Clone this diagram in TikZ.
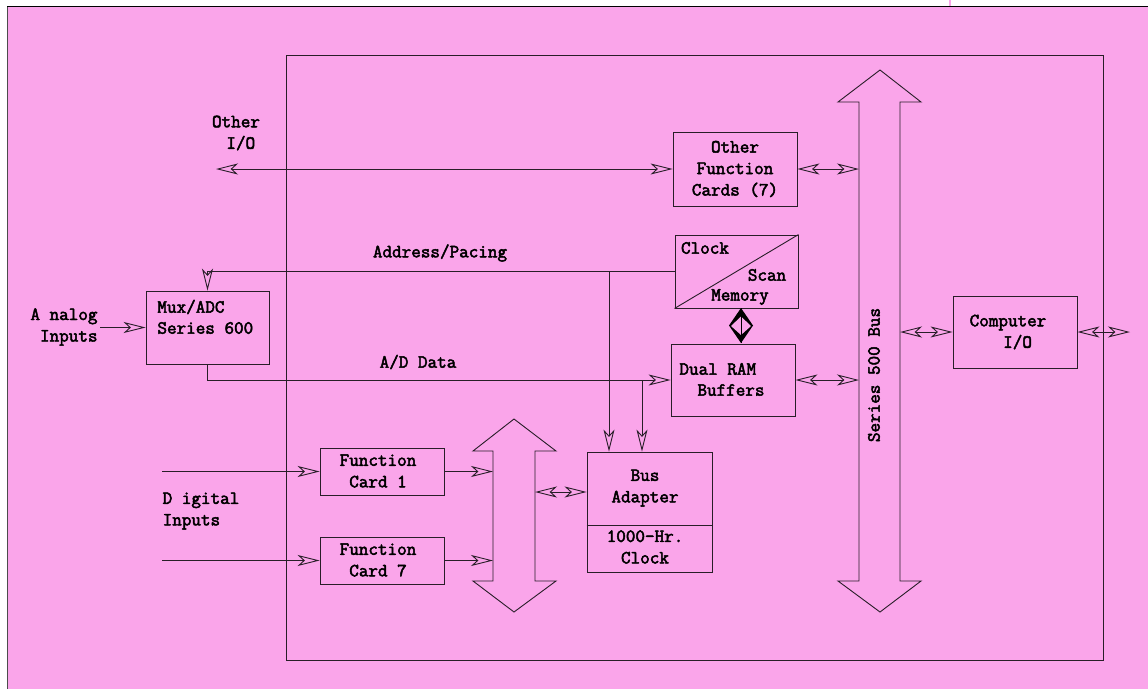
\documentclass[tikz,border=0pt]{standalone}
\usepackage{fontspec}
\newfontfamily\labelfont{Latin Modern Mono}[FakeBold=2.6]
\usetikzlibrary{arrows.meta}
\definecolor{bgpink}{RGB}{250,165,234}
\definecolor{edge}{RGB}{40,30,40}
\begin{document}
\begin{tikzpicture}[x=1pt,y=-1pt,line width=0.9pt,draw=edge,
  box/.style={draw=edge,rectangle,inner sep=0pt,fill=bgpink},
  lbl/.style={font=\labelfont\fontsize{18.6}{21.5}\selectfont,inner sep=0pt,align=center,text=black},
  bus/.style={draw=edge,fill=bgpink,line join=miter},
  >={Stealth[open,length=22pt,width=11pt,inset=6pt]},
]
\useasboundingbox (0,0) rectangle (1148,689);

% page background and frame
\fill[bgpink] (7,6) rectangle (1148,689);
\draw[gray!60!black] (7,689) -- (7,6);
\draw[black] (7,6) -- (1148,6);
\draw[bgpink,line width=2pt] (950,0) -- (950,6);

% system enclosure
\draw (286,55) rectangle (1103,660);

% Series 500 bus
\draw[bus] (859,102) -- (838,102) -- (880,70) -- (921,102) -- (900,102)
  -- (900,581) -- (921,581) -- (880,612) -- (838,581) -- (859,581) -- cycle;
\coordinate (busW) at (859,0);
\coordinate (busE) at (900,0);
\node[lbl,rotate=90] (buslbl) at (874,375) {Series 500 Bus};

% local card bus
\draw[bus] (493,451) -- (473,451) -- (514,419) -- (556,451) -- (535,451)
  -- (535,581) -- (556,581) -- (514,612) -- (473,581) -- (493,581) -- cycle;
\coordinate (sbW) at (493,0);
\coordinate (sbA) at (535,492);

% blocks
\node[box,minimum width=124pt,minimum height=74pt,lbl] (ofc) at (735,169) {Other\\Function\\Cards (7)};
\node[box,minimum width=123pt,minimum height=73pt] (clk) at (736.5,271.5) {};
\draw (clk.south west) -- (clk.north east);
\node[lbl] (clkt) at (705,248) {Clock};
\node[lbl] (scnt) at (767,275) {Scan};
\node[lbl] (memt) at (740,297) {Memory};

\node[box,minimum width=124pt,minimum height=72pt] (ram) at (733,380) {};
\node[lbl,anchor=west] (ram1) at (679,369) {Dual RAM};
\node[lbl,anchor=west] (ram2) at (697,390) {Buffers};

\node[box,minimum width=123pt,minimum height=73pt] (mux) at (207.5,327.5) {};
\node[lbl,anchor=west] (mux1) at (157,307) {Mux/ADC};
\node[lbl,anchor=west] (mux2) at (157,328) {Series 600};

\node[box,minimum width=125pt,minimum height=120pt] (ba) at (649.5,512) {};
\draw (ba.west |- 0,525) -- (ba.east |- 0,525);
\node[lbl] (ba1) at (645,488) {Bus\\Adapter};
\node[lbl] (ba2) at (645,547) {1000-Hr.\\Clock};

\node[box,minimum width=124pt,minimum height=47pt] (fc1) at (382,471.5) {};
\node[lbl] (fc1t) at (378,471) {Function\\Card 1};
\node[box,minimum width=124pt,minimum height=47pt] (fc7) at (382,560.5) {};
\node[lbl] (fc7t) at (378,560) {Function\\Card 7};

\node[box,minimum width=124pt,minimum height=72pt] (cio) at (1015,332) {};
\node[lbl] (ciot) at (1008,332) {Computer\\\ \ I/O};

% free labels
\node[lbl] (oiot) at (236,133) {Other\\\ I/O};
\node[lbl] (adrt) at (440,253) {Address/Pacing};
\node[lbl] (adt) at (418,362) {A/D Data};
\node[lbl] (ant) at (64,327) {A nalog\\\ Inputs};
\node[lbl,align=left] (dit) at (201,511) {D igital\\Inputs};

% connectors
\coordinate (oio) at (216,169);
\draw[<->] (oio) -- (ofc.west);
\draw[<->] (ofc.east) -- (ofc.east -| busW);

\coordinate (tapA) at (609,271.5);
\draw[->] (clk.west) -- (clk.west -| mux.north) -- (mux.north);
\draw[->] (tapA) -- (tapA |- ba.north);

\coordinate (tapD) at (642,380);
\draw[->] (mux.south) -- (mux.south |- ram.west) -- (ram.west);
\draw[->] (tapD) -- (tapD |- ba.north);

\draw[<->] (ram.east) -- (ram.east -| busW);

% clock/scan to buffer link: heavy double head
\coordinate (dT) at (741,308);
\coordinate (dB) at (741,343);
\fill[black] (dT) -- (753,325.5) -- (dB) -- (729,325.5) -- cycle;
\fill[bgpink] (741,316.5) -- (751,326) -- (741,335) -- (731,326) -- cycle;
\draw[black] (dT) -- (dB);

\coordinate (ain) at (100,327.5);
\draw[->] (ain) -- (mux.west);

\coordinate (din1) at (162,471.5);
\coordinate (din7) at (162,560.5);
\draw[->] (din1) -- (fc1.west);
\draw[->] (din7) -- (fc7.west);
\draw[->] (fc1.east) -- (fc1.east -| sbW);
\draw[->] (fc7.east) -- (fc7.east -| sbW);
\draw[<->] (sbA) -- (sbA -| ba.west);

\coordinate (cout) at (1130,332);
\draw[<->] (cio.west -| busE) -- (cio.west);
\draw[<->] (cio.east) -- (cout);
\end{tikzpicture}
\end{document}
